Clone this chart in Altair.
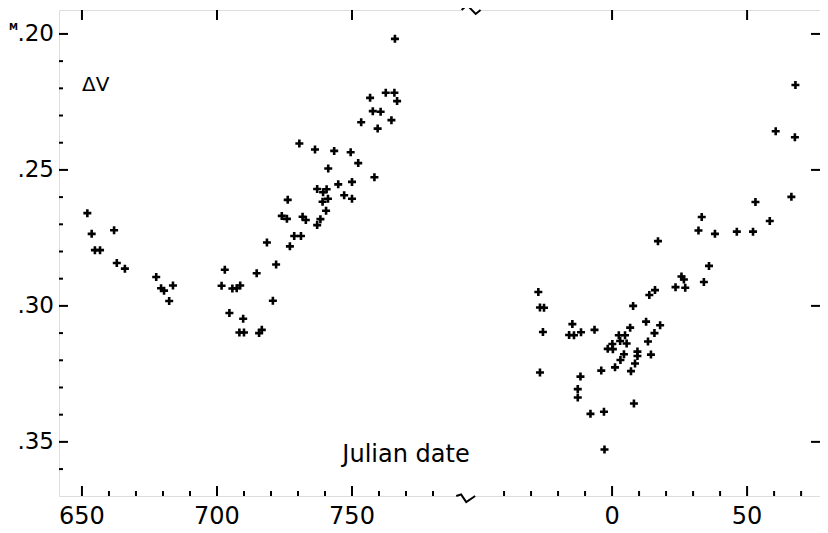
import altair as alt
import pandas as pd

# ---- data (Julian date, delta V in magnitudes) ----
left_jd = [652.0, 653.6, 654.8, 656.7, 661.9, 662.9, 665.9, 677.5, 679.3, 680.4, 683.7, 682.3,
           701.7, 702.9, 704.6, 705.7, 707.3, 708.6, 708.3, 710.0, 709.7, 714.7, 715.6, 716.6,
           720.7, 721.9, 718.5, 727.0, 728.6, 731.1, 726.2, 724.0, 725.9, 731.7, 732.9, 730.5,
           736.3, 737.1, 738.3, 740.4, 739.1, 741.1, 737.1, 739.3, 740.6, 741.2, 743.4, 744.9,
           747.1, 750.0, 750.0, 749.5, 752.3, 758.3, 753.4, 756.7, 757.7, 760.6, 759.5, 762.5,
           765.7, 766.7, 764.6, 765.9]
left_dv = [0.2659, 0.2735, 0.2795, 0.2795, 0.2722, 0.2842, 0.2863, 0.2894, 0.2935, 0.2944, 0.2925, 0.2982,
           0.2926, 0.2867, 0.3026, 0.2936, 0.2935, 0.2925, 0.3098, 0.3098, 0.3047, 0.2880, 0.3100, 0.3088,
           0.2981, 0.2848, 0.2767, 0.2781, 0.2743, 0.2743, 0.2610, 0.2669, 0.2680, 0.2672, 0.2684, 0.2403,
           0.2425, 0.2703, 0.2681, 0.2650, 0.2617, 0.2606, 0.2570, 0.2582, 0.2571, 0.2495, 0.2430, 0.2553,
           0.2593, 0.2606, 0.2544, 0.2435, 0.2475, 0.2527, 0.2325, 0.2235, 0.2284, 0.2286, 0.2348, 0.2216,
           0.2216, 0.2247, 0.2317, 0.2018]

right_jd = [-27.3, -26.7, -25.2, -25.6, -26.7, -14.7, -15.9, -14.1, -11.5, -6.5, -11.7, -12.7,
            -12.7, -8.0, -3.0, -2.8, -4.0, -1.6, 0.1, 0.3, 2.5, 4.8, 3.0, 5.4,
            6.7, 4.4, 3.1, 1.1, 7.0, 8.5, 9.4, 9.4, 8.1, 14.4, 13.3, 15.7,
            17.8, 12.6, 7.8, 13.8, 15.9, 23.5, 27.1, 25.7, 26.6, 17.0, 34.0, 35.9,
            32.0, 33.2, 38.1, 46.2, 52.2, 53.1, 58.4, 66.4, 60.6, 67.7, 67.9]
right_dv = [0.2949, 0.3006, 0.3007, 0.3096, 0.3245, 0.3067, 0.3107, 0.3108, 0.3097, 0.3088, 0.3260, 0.3306,
            0.3337, 0.3397, 0.3389, 0.3528, 0.3238, 0.3158, 0.3140, 0.3159, 0.3108, 0.3108, 0.3129, 0.3138,
            0.3080, 0.3178, 0.3199, 0.3226, 0.3240, 0.3212, 0.3168, 0.3184, 0.3359, 0.3179, 0.3131, 0.3100,
            0.3071, 0.3058, 0.3000, 0.2960, 0.2942, 0.2931, 0.2933, 0.2892, 0.2903, 0.2762, 0.2912, 0.2853,
            0.2723, 0.2673, 0.2735, 0.2727, 0.2727, 0.2618, 0.2688, 0.2599, 0.2358, 0.2380, 0.2188]

x_major_left = [650, 700, 750]
x_major_right = [0, 50]
x_major_labels = ["650", "700", "750", "0", "50"]
x_minor_left = [660, 670, 680, 690, 710, 720, 730, 740, 760, 770, 780]
x_minor_right = [-40, -30, -20, -10, 10, 20, 30, 40, 60, 70]
y_major = [0.20, 0.25, 0.30, 0.35]
y_major_labels = [".20", ".25", ".30", ".35"]
y_minor = [0.21, 0.22, 0.23, 0.24, 0.26, 0.27, 0.28, 0.29, 0.31, 0.32, 0.33, 0.34, 0.36]

dv_label = ["ΔV"]
x_label = ["Julian date"]
unit_label = ["M"]

# ---- broken x axis: right segment is shifted onto the same scale ----
OFFSET = 846.3
BREAK = 793.2
X_DOMAIN = [641.5, 923.3]
Y_DOMAIN = [0.1912, 0.3699]
W, H = 761, 486
FONT = "DejaVu Sans"

xs = alt.Scale(domain=X_DOMAIN, nice=False, zero=False)
ys = alt.Scale(domain=Y_DOMAIN, reverse=True, nice=False, zero=False)

pts = pd.DataFrame({
    "x": left_jd + [v + OFFSET for v in right_jd],
    "dv": left_dv + right_dv,
})

x_major = x_major_left + [v + OFFSET for v in x_major_right]
x_minor = x_minor_left + [v + OFFSET for v in x_minor_right]

plus = "M-1,0L1,0M0,-1L0,1"

points = alt.Chart(pts).mark_point(
    shape=plus, filled=False, color="black", strokeWidth=2.6, size=64, opacity=1
).encode(
    x=alt.X("x:Q", scale=xs, axis=None),
    y=alt.Y("dv:Q", scale=ys, axis=None),
)

def rule_layer(df, **enc):
    return alt.Chart(df).mark_rule(color="black", strokeWidth=2).encode(**enc)

ymaj = pd.DataFrame({"v": y_major, "lab": y_major_labels})
ymin = pd.DataFrame({"v": y_minor})
xmaj = pd.DataFrame({"v": x_major, "lab": x_major_labels})
xmin = pd.DataFrame({"v": x_minor})

ticks = [
    rule_layer(ymaj, y=alt.Y("v:Q", scale=ys, axis=None), x=alt.value(0), x2=alt.value(9)),
    rule_layer(ymin, y=alt.Y("v:Q", scale=ys, axis=None), x=alt.value(0), x2=alt.value(4)),
    rule_layer(ymaj, y=alt.Y("v:Q", scale=ys, axis=None), x=alt.value(W - 9), x2=alt.value(W)),
    rule_layer(xmaj, x=alt.X("v:Q", scale=xs, axis=None), y=alt.value(H), y2=alt.value(H - 10)),
    rule_layer(xmin, x=alt.X("v:Q", scale=xs, axis=None), y=alt.value(H), y2=alt.value(H - 5)),
    rule_layer(xmaj, x=alt.X("v:Q", scale=xs, axis=None), y=alt.value(0), y2=alt.value(10)),
]

# tick labels as text marks placed through the scales
y_labels = alt.Chart(ymaj).mark_text(
    align="right", baseline="middle", fontSize=23, font=FONT, color="black"
).encode(y=alt.Y("v:Q", scale=ys, axis=None), x=alt.value(-5), text="lab:N")
x_labels = alt.Chart(xmaj).mark_text(
    align="center", baseline="top", fontSize=24, font=FONT, color="black"
).encode(x=alt.X("v:Q", scale=xs, axis=None), y=alt.value(H + 9), text="lab:N")

# white cover over frame at the break, then the zigzag break marks
px_dv = (Y_DOMAIN[1] - Y_DOMAIN[0]) / H
cover = pd.DataFrame({
    "x1": [BREAK - 2.6, BREAK - 4.6],
    "x2": [BREAK + 4.4, BREAK + 2.4],
    "y": [Y_DOMAIN[0], Y_DOMAIN[1]],
})
cover_layer = alt.Chart(cover).mark_rule(color="white", strokeWidth=5).encode(
    x=alt.X("x1:Q", scale=xs, axis=None), x2="x2:Q",
    y=alt.Y("y:Q", scale=ys, axis=None),
)
zz = pd.DataFrame({
    "x": [BREAK - 2.6, BREAK - 0.6, BREAK + 2.6, BREAK + 4.4,
          BREAK - 4.6, BREAK - 2.8, BREAK - 0.9, BREAK + 2.4],
    "y": [Y_DOMAIN[0], Y_DOMAIN[0] - 5 * px_dv, Y_DOMAIN[0] + 4 * px_dv, Y_DOMAIN[0],
          Y_DOMAIN[1], Y_DOMAIN[1] - 1.5 * px_dv, Y_DOMAIN[1] + 6 * px_dv, Y_DOMAIN[1]],
    "seg": ["t"] * 4 + ["b"] * 4,
    "i": [0, 1, 2, 3, 0, 1, 2, 3],
})
zig_layer = alt.Chart(zz).mark_line(color="black", strokeWidth=2).encode(
    x=alt.X("x:Q", scale=xs, axis=None),
    y=alt.Y("y:Q", scale=ys, axis=None),
    detail="seg:N", order="i:Q",
)

dv_text = alt.Chart(pd.DataFrame({"t": dv_label})).mark_text(
    align="left", baseline="middle", fontSize=20, font=FONT, color="black"
).encode(x=alt.value(23), y=alt.value(75), text="t:N")

x_text = alt.Chart(pd.DataFrame({"t": x_label})).mark_text(
    align="center", baseline="middle", fontSize=24, font=FONT, color="black"
).encode(x=alt.value(347), y=alt.value(445), text="t:N")

m_text = alt.Chart(pd.DataFrame({"t": unit_label})).mark_text(
    align="left", baseline="middle", fontSize=9, fontWeight="bold", font=FONT, color="black"
).encode(x=alt.value(-50), y=alt.value(17), text="t:N")

chart = alt.layer(
    *ticks, cover_layer, zig_layer, points, y_labels, x_labels, dv_text, x_text, m_text
).properties(
    width=W, height=H,
    padding={"left": 51, "top": 2, "right": 0, "bottom": 37},
    autosize=alt.AutoSizeParams(type="none"),
).configure_view(
    stroke="black", strokeWidth=2
).configure(
    font=FONT, background="white"
)

chart.save("out.html", embed_options={"renderer": "svg", "actions": False})
